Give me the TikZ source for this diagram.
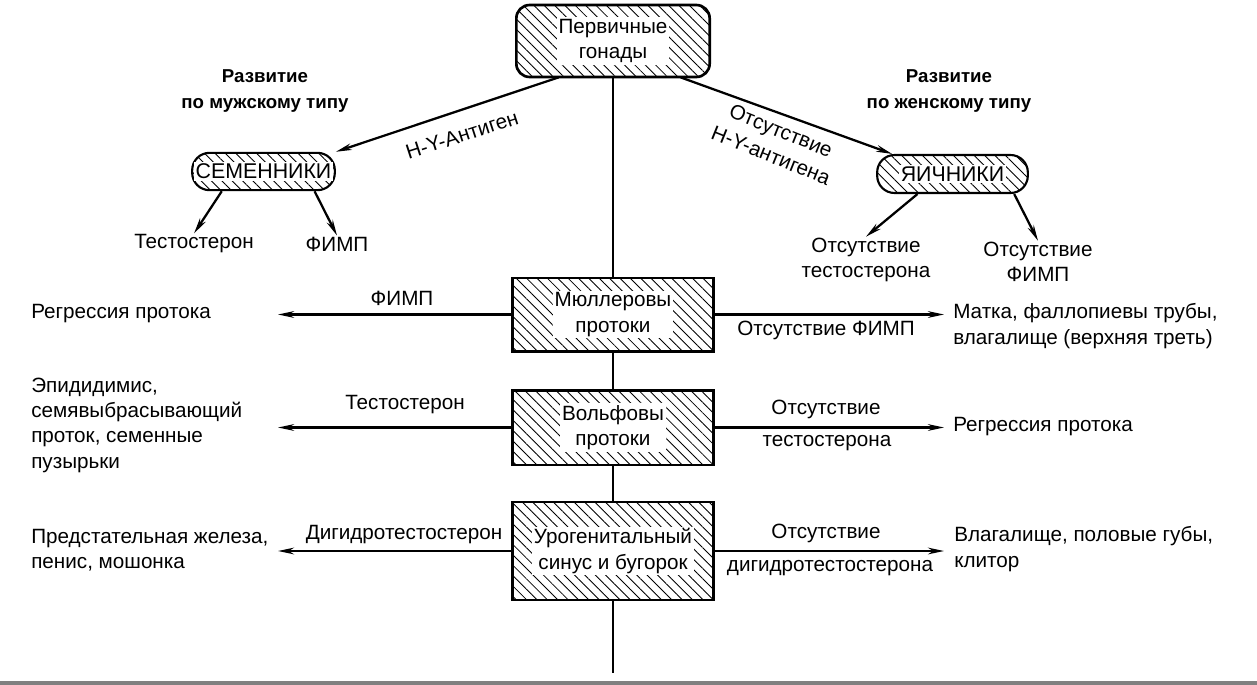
\documentclass[tikz,border=0pt]{standalone}
\usepackage{fontspec}
\setmainfont{Liberation Sans}
\usetikzlibrary{arrows.meta,patterns.meta}

\tikzset{
  hatchbox/.style={draw, line width=2pt, pattern={Lines[angle=-45,distance=5.5pt,line width=0.65pt]}},
  ovalbox/.style={hatchbox, rounded corners=13pt, line width=1.6pt},
  boxtext/.style={fill=white, inner sep=1.5pt, align=center},
  arr/.style={line width=1.7pt, -{Stealth[length=12pt,width=5pt]}},
  trunk/.style={line width=2pt},
  headtext/.style={font=\bfseries\fontsize{14}{20}\selectfont, align=center},
}

\begin{document}
\begin{tikzpicture}[x=0.75pt,y=0.75pt,yscale=-1,xscale=1,
  every node/.style={inner sep=0.75pt, font=\fontsize{15.5}{19}\selectfont}]
\useasboundingbox (0,0) rectangle (1257,685);

%Shape: Rounded Rect
\node (gonads) [hatchbox, rounded corners=10pt, minimum width=145pt, minimum height=54pt] at (613,41) {};
\node (gonadsText) [boxtext] at (gonads) {Первичные\\гонады};
%Shape: Oval boxes
\node (semen) [ovalbox, minimum width=107pt, minimum height=28pt] at (263.5,171.5) {};
\node (semenText) [boxtext, font=\fontsize{16}{19}\selectfont] at (semen) {СЕМЕННИКИ};
\node (yaich) [ovalbox, minimum width=113pt, minimum height=28.5pt] at (952.5,174) {};
\node (yaichText) [boxtext, font=\fontsize{16}{19}\selectfont] at (yaich) {ЯИЧНИКИ};
%Shape: Rectangles
\node (muller) [hatchbox, minimum width=150.5pt, minimum height=55pt] at (613,314.5) {};
\node (mullerText) [boxtext] at (muller) {Мюллеровы\\протоки};
\node (wolff) [hatchbox, minimum width=150.5pt, minimum height=56pt] at (613,427.5) {};
\node (wolffText) [boxtext] at (wolff) {Вольфовы\\протоки};
\node (uro) [hatchbox, minimum width=150.5pt, minimum height=73.5pt] at (613,551) {};
\node (uroText) [boxtext] at (uro) {Урогенитальный\\синус и бугорок};

%Straight Lines: trunk
\coordinate (trunkEnd) at (613,673);
\draw [trunk] (gonads.south) -- (muller.north);
\draw [trunk] (muller.south) -- (wolff.north);
\draw [trunk] (wolff.south) -- (uro.north);
\draw [trunk] (uro.south) -- (trunkEnd);

%Straight Lines: gonads to testes / ovaries
\draw [arr] ([xshift=32pt]gonads.south west) -- (semen.north east);
\draw [arr] ([xshift=-22pt]gonads.south east) -- ([xshift=12pt]yaich.north west);

% Text Node
\node (hyLabel) [rotate=18] at (462,135) {H-Y-Антиген};
% Text Node
\node (noHyLabel) [rotate=-22, align=center, font=\fontsize{15.5}{20}\selectfont] at (776,143) {Отсутствие\\H-Y-антигена};
% Text Node
\node (maleHead) [headtext] at (265,91) {Развитие\\по мужскому типу};
% Text Node
\node (femaleHead) [headtext] at (949,91) {Развитие\\по женскому типу};

% Text Node
\node (testoM) at (194,244) {Тестостерон};
\node (fimpM) at (337,244) {ФИМП};
\node (noTestoF) [align=center] at (866,260) {Отсутствие\\тестостерона};
\node (noFimpF) [align=center] at (1038,262) {Отсутствие\\ФИМП};

%Straight Lines
\draw [arr] ([xshift=23pt]semen.south west) -- (testoM.north);
\draw [arr] ([xshift=-16pt]semen.south east) -- (fimpM.north);
\draw [arr] ([xshift=31pt]yaich.south west) -- (noTestoF.north);
\draw [arr] ([xshift=-11pt]yaich.south east) -- (noFimpF.north);

%Straight Lines: side arrows
\coordinate (mullerL) at (278,314.5);
\coordinate (mullerR) at (944,314.5);
\coordinate (wolffL) at (278,427.5);
\coordinate (wolffR) at (944,427.5);
\coordinate (uroL) at (278,551);
\coordinate (uroR) at (944,551);
\draw [arr] (muller.west) -- (mullerL);
\draw [arr] (muller.east) -- (mullerR);
\draw [arr] (wolff.west) -- (wolffL);
\draw [arr] (wolff.east) -- (wolffR);
\draw [arr] (uro.west) -- (uroL);
\draw [arr] (uro.east) -- (uroR);

% Text Node
\node (fimpLbl) at (402,298) {ФИМП};
\node (noFimpLbl) at (826,330) {Отсутствие ФИМП};
\node (testoLbl) at (405,405) {Тестостерон};
\node (noTestoA) at (826,409) {Отсутствие};
\node (noTestoB) at (827,443) {тестостерона};
\node (dhtLbl) at (404,535) {Дигидротестостерон};
\node (noDhtA) at (826,533) {Отсутствие};
\node (noDhtB) at (830,568) {дигидротестостерона};

% Text Node
\node (regressM) [anchor=west] at (30,314) {Регрессия протока};
\node (epid) [anchor=west, align=left] at (30,425) {Эпидидимис,\\семявыбрасывающий\\проток, семенные\\пузырьки};
\node (prostate) [anchor=west, align=left] at (30,550) {Предстательная железа,\\пенис, мошонка};
\node (uterus) [anchor=west, align=left] at (952,326) {Матка, фаллопиевы трубы,\\влагалище (верхняя треть)};
\node (regressF) [anchor=west] at (952,427) {Регрессия протока};
\node (vagina) [anchor=west, align=left] at (953,549) {Влагалище, половые губы,\\клитор};

%Shape: bottom rule
\fill [black!50] (0,681) rectangle (1257,685);

\end{tikzpicture}
\end{document}
